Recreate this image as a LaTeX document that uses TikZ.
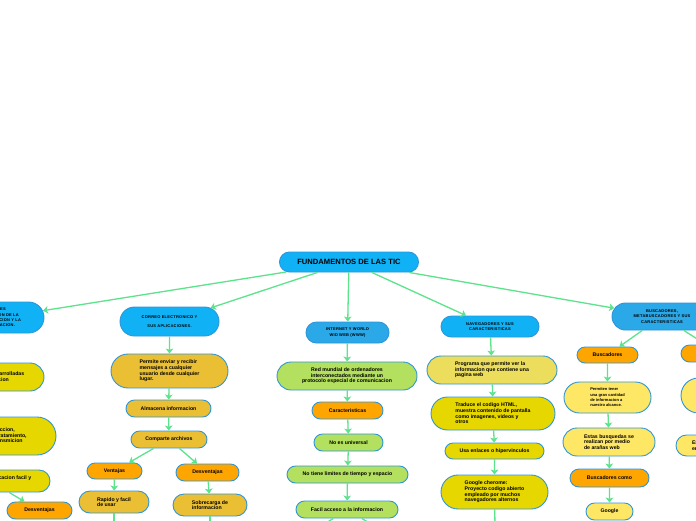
\documentclass[tikz,border=0pt]{standalone}
\usepackage{fontspec}
\setmainfont{Liberation Sans}
\newfontfamily\capsfont[LetterSpace=6]{Liberation Sans}
\usetikzlibrary{shapes.misc,arrows.meta}
\definecolor{tblue}{HTML}{10B2F5}
\definecolor{iblue}{HTML}{2BA8E8}
\definecolor{edgeblue}{HTML}{2E96D8}
\definecolor{ochre}{HTML}{EBBF33}
\definecolor{orng}{HTML}{FFA500}
\definecolor{lgreen}{HTML}{B3E05E}
\definecolor{khaki}{HTML}{ECDE5C}
\definecolor{yel}{HTML}{E6D700}
\definecolor{lyel}{HTML}{FFE766}
\definecolor{linkgreen}{HTML}{5CE38C}
\tikzset{
  box/.style={rounded rectangle, draw=edgeblue, line width=0.9pt, inner sep=0pt,
    font=\bfseries\fontsize{5.2}{5.6}\selectfont, align=center},
  ttl/.style={box, font=\capsfont\bfseries\fontsize{4}{5.4}\selectfont},
  sz/.style 2 args={minimum width=#1pt, minimum height=#2pt},
  link/.style={draw=linkgreen, line width=1.3pt,
    -{Stealth[length=5pt, width=7.5pt, inset=1.2pt]}}
}
\begin{document}
\begin{tikzpicture}[x=1pt, y=-1pt]
  \useasboundingbox (0,0) rectangle (696,520);
  \clip (0,0) rectangle (696,520);
  \fill[white] (0,0) rectangle (696,520);

  \node[box, fill=tblue, sz={139}{20}, font=\bfseries\fontsize{7.6}{9}\selectfont] (root) at (349,262) {FUNDAMENTOS DE LAS TIC};

  \node[ttl, fill=tblue, sz={88}{31}, align=left] (hist) at (0,317.5) {GENERALES\\EVOLUCION DE LA\\INFORMACION Y LA\\COMUNICACION.};
  \node[box, fill=yel, sz={108}{28}, align=left] (tools) at (-10,377) {Herramientas desarrolladas\\para la comunicacion};
  \node[box, fill=yel, sz={132}{38}, align=left] (proc) at (-10,436) {adquisicion, produccion,\\almacenamiento, tratamiento,\\recuperacion, y/transmicion};
  \node[box, fill=yel, sz={120}{22}, align=left] (comu) at (-10,481) {Permite una comunicacion facil y\\rapida};
  \node[box, fill=orng, sz={65}{17}] (desvL) at (39.5,510.5) {Desventajas};

  \node[ttl, fill=tblue, sz={99}{29}] (mail) at (169.5,321.5) {CORREO ELECTRONICO Y\\[3.5pt]SUS APLICACIONES.};
  \node[box, fill=ochre, sz={117}{34}, align=left] (send) at (169.5,371) {Permite enviar y recibir\\mensajes a cualquier\\usuario desde cualquier\\lugar.};
  \node[box, fill=ochre, sz={85}{17}] (store) at (168.5,408.5) {Almacena informacion};
  \node[box, fill=ochre, sz={76}{17}] (share) at (169,439.5) {Comparte archivos};
  \node[box, fill=orng, sz={55}{16}] (pros) at (114.5,471) {Ventajas};
  \node[box, fill=orng, sz={63}{17}] (cons) at (207.5,472.5) {Desventajas};
  \node[box, fill=ochre, sz={70}{22}, align=left] (fast) at (114,502) {Rapido y facil\\de usar};
  \node[box, fill=ochre, sz={74}{22}, align=left] (over) at (210,505) {Sobrecarga de\\informacion};
  \coordinate (fastEnd) at (114,526);
  \coordinate (overEnd) at (210,529);

  \node[ttl, fill=iblue, sz={83}{21}] (www) at (347.5,332.5) {INTERNET Y WORLD\\WID WEB (WWW)};
  \node[box, fill=lgreen, sz={140}{28}] (net) at (347,376) {Red mundial de ordenadores\\interconectados mediante un\\protocolo especial de comunicacion};
  \node[box, fill=orng, sz={71}{17}] (feat) at (347.5,410.5) {Caracteristicas};
  \node[box, fill=lgreen, sz={69}{17}] (univ) at (348.5,442.5) {No es universal};
  \node[box, fill=lgreen, sz={121}{17}] (limit) at (347.5,474.5) {No tiene limites de tiempo y espacio};
  \node[box, fill=lgreen, sz={102}{17}] (access) at (347,509.5) {Facil acceso a la informacion};
  \coordinate (accessA) at (320,527);
  \coordinate (accessB) at (376,527);

  \node[ttl, fill=tblue, sz={98}{21}] (nav) at (490,326.5) {NAVEGADORES Y SUS\\CARACTERISTICAS};
  \node[box, fill=khaki, sz={130}{28}, align=left] (prog) at (492,370) {Programa que permite ver la\\informacion que contiene una\\pagina web};
  \node[box, fill=yel, sz={124}{33}, align=left] (html) at (493,413.5) {Traduce el codigo HTML,\\muestra contenido de pantalla\\como imagenes, videos y\\otros};
  \node[box, fill=yel, sz={99}{16}] (links) at (494.5,451) {Usa enlaces o hipervinculos};
  \node[box, fill=yel, sz={107}{34}, align=left] (chrome) at (494.5,492) {Google cherome:\\Proyecto codigo abierto\\empleado por muchos\\navegadores alternos};
  \coordinate (chromeEnd) at (495,528);

  \node[ttl, fill=iblue, sz={100}{27}] (search) at (662,316.5) {BUSCADORES,\\METABUSCADORES Y SUS\\CARACTERISTICAS};
  \node[box, fill=orng, sz={61}{16}] (eng) at (607.5,355) {Buscadores};
  \node[box, fill=lyel, sz={87}{31}, align=left, font=\bfseries\fontsize{4}{5.3}\selectfont] (reach) at (607.5,397.5) {Permiten tener\\una gran cantidad\\de informacion a\\nuestro alcance.};
  \node[box, fill=lyel, sz={92}{28}, align=left] (spider) at (609,442) {Estas busquedas se\\realizan por medio\\de ara\~nas web};
  \node[box, fill=orng, sz={79}{18}] (like) at (609.5,478) {Buscadores como};
  \node[box, fill=lyel, sz={47}{17}] (google) at (609.5,511.5) {Google};
  \node[box, fill=orng, sz={78}{17}] (meta) at (720,353.5) {Metabuscadores};
  \node[box, fill=lyel, sz={90}{35}] (metaA) at (726,395.5) {Buscan en\\varios motores};
  \node[box, fill=lyel, sz={90}{21}, align=left, text width=58pt] (metaB) at (721,445.5) {Es un buscador\\en buscadores};

  \draw[link] (root) -- (hist);
  \draw[link] (root) -- (mail);
  \draw[link] (root) -- (www);
  \draw[link] (root) -- (nav);
  \draw[link] (root) -- (search);

  \draw[link] (comu) -- (desvL);

  \draw[link] (mail) -- (send);
  \draw[link] (send) -- (store);
  \draw[link] (store) -- (share);
  \draw[link] (share) -- (pros);
  \draw[link] (share) -- (cons);
  \draw[link] (pros) -- (fast);
  \draw[link] (cons) -- (over);
  \draw[link] (fast) -- (fastEnd);
  \draw[link] (over) -- (overEnd);

  \draw[link] (www) -- (net);
  \draw[link] (net) -- (feat);
  \draw[link] (feat) -- (univ);
  \draw[link] (univ) -- (limit);
  \draw[link] (limit) -- (access);
  \draw[link] (access) -- (accessA);
  \draw[link] (access) -- (accessB);

  \draw[link] (nav) -- (prog);
  \draw[link] (prog) -- (html);
  \draw[link] (html) -- (links);
  \draw[link] (links) -- (chrome);
  \draw[link] (chrome) -- (chromeEnd);

  \draw[link] (search) -- (eng);
  \draw[link] (search) -- (meta);
  \draw[link] (eng) -- (reach);
  \draw[link] (reach) -- (spider);
  \draw[link] (spider) -- (like);
  \draw[link] (like) -- (google);
\end{tikzpicture}
\end{document}
